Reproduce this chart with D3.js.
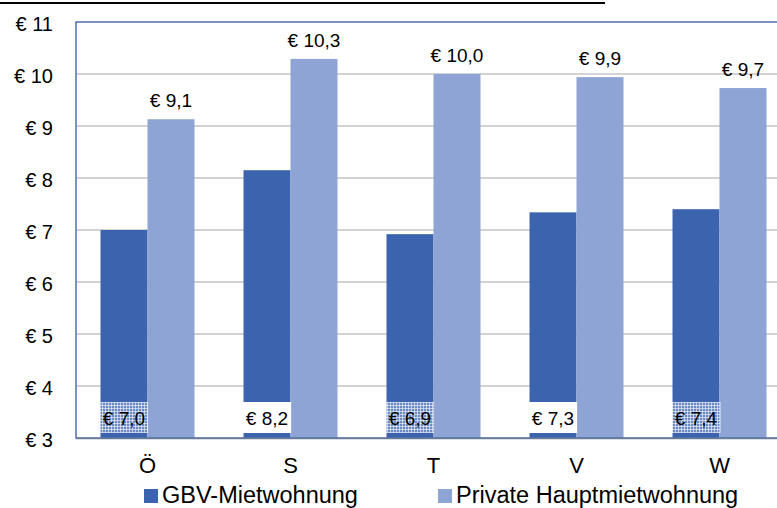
<!DOCTYPE html>
<html><head><meta charset="utf-8">
<script src="https://cdn.jsdelivr.net/npm/d3@7"></script>
<style>body{margin:0;background:#fff;overflow:hidden}svg{display:block;font-family:"Liberation Sans",Arial,sans-serif}</style>
</head><body>
<svg id="c" width="777" height="508"></svg>
<script>
const categories = ["Ö", "S", "T", "V", "W"];
const seriesNames = ["GBV-Mietwohnung", "Private Hauptmietwohnung"];
const gbv = [7.0, 8.15, 6.92, 7.34, 7.4];
const gbvLabels = ["€ 7,0", "€ 8,2", "€ 6,9", "€ 7,3", "€ 7,4"];
const priv = [9.13, 10.29, 10.0, 9.94, 9.73];
const privLabels = ["€ 9,1", "€ 10,3", "€ 10,0", "€ 9,9", "€ 9,7"];
const yTicks = [3, 4, 5, 6, 7, 8, 9, 10, 11];
const patterned = [true, false, true, false, true];
const colors = ["#3C64AE", "#8EA4D4"];

const svg = d3.select("#c");
const defs = svg.append("defs");
const pat = defs.append("pattern").attr("id","dots").attr("width",3).attr("height",3).attr("patternUnits","userSpaceOnUse");
pat.append("rect").attr("width",3).attr("height",3).attr("fill","rgba(255,255,255,0.25)");
pat.append("rect").attr("width",1).attr("height",3).attr("fill","rgba(255,255,255,0.55)");
pat.append("rect").attr("width",3).attr("height",1).attr("fill","rgba(255,255,255,0.55)");

const plotL = 76, plotT = 22, plotB = 438, bandW = 143;
const x = d3.scaleBand().domain(categories).range([plotL, plotL + bandW*categories.length]).paddingInner(0).paddingOuter(0);
const y = d3.scaleLinear().domain([3, 11]).range([plotB, plotT]);
const barW = 47;

// title underline
svg.append("line").attr("x1",0).attr("x2",605).attr("y1",3).attr("y2",3).attr("stroke","#000").attr("stroke-width",2);

// grid
svg.append("g").selectAll("line").data(yTicks.filter(d=>d>3 && d<11)).join("line")
  .attr("x1", plotL).attr("x2", 777).attr("y1", d=>y(d)).attr("y2", d=>y(d))
  .attr("stroke","#A6A6A6").attr("stroke-width",1);

// y axis labels
const yAxis = d3.axisLeft(y).tickValues(yTicks).tickSize(0).tickPadding(0).tickFormat(d=>"€ " + d);
const ga = svg.append("g").attr("transform",`translate(53,0)`).call(yAxis);
ga.select(".domain").remove();
ga.selectAll("text").attr("font-size",20).attr("fill","#000").attr("font-family","Liberation Sans, Arial, sans-serif").attr("dy","0.4em");

// bars
const g = svg.append("g");
categories.forEach((c,i)=>{
  const cx = x(c) + x.bandwidth()/2;
  g.append("rect").attr("x", cx - barW).attr("width", barW).attr("y", y(gbv[i])).attr("height", y(3)-y(gbv[i])).attr("fill", colors[0]);
  g.append("rect").attr("x", cx).attr("width", barW).attr("y", y(priv[i])).attr("height", y(3)-y(priv[i])).attr("fill", colors[1]);
});

// gbv labels
categories.forEach((c,i)=>{
  const cx = x(c) + x.bandwidth()/2 - barW/2;
  const t = g.append("text").attr("x", cx).attr("y", 425).attr("text-anchor","middle").attr("font-size",19).attr("fill","#000").text(gbvLabels[i]);
  const bb = t.node().getBBox();
  g.append("rect").attr("x", bb.x-3).attr("y", 402).attr("width", bb.width+6).attr("height", 31)
    .attr("fill", patterned[i] ? "url(#dots)" : "#fff");
  t.raise();
});
// priv labels
categories.forEach((c,i)=>{
  const cx = x(c) + x.bandwidth()/2 + barW/2;
  g.append("text").attr("x", cx).attr("y", y(priv[i]) - 12).attr("text-anchor","middle").attr("font-size",19).attr("fill","#000").text(privLabels[i]);
});

// frame
svg.append("path").attr("d",`M777,${plotT}H${plotL}V${plotB}H777`).attr("fill","none").attr("stroke","#4F6FA8").attr("stroke-width",1.5);
svg.append("line").attr("x1",plotL).attr("x2",777).attr("y1",plotB+0.5).attr("y2",plotB+0.5).attr("stroke","#6B7C99").attr("stroke-width",1.5);

// x labels
const xAxis = d3.axisBottom(x).tickSize(0).tickPadding(0);
const gx = svg.append("g").attr("transform",`translate(0,457)`).call(xAxis);
gx.select(".domain").remove();
gx.selectAll("text").attr("font-size",22).attr("fill","#000").attr("font-family","Liberation Sans, Arial, sans-serif");

// legend
const legX = [144, 438];
seriesNames.forEach((n,i)=>{
  svg.append("rect").attr("x", legX[i]).attr("y", 489).attr("width", 14).attr("height", 14).attr("fill", colors[i]);
  svg.append("text").attr("x", legX[i]+18).attr("y", 503).attr("font-size",23.5).attr("fill","#000").text(n);
});
</script>
</body></html>
